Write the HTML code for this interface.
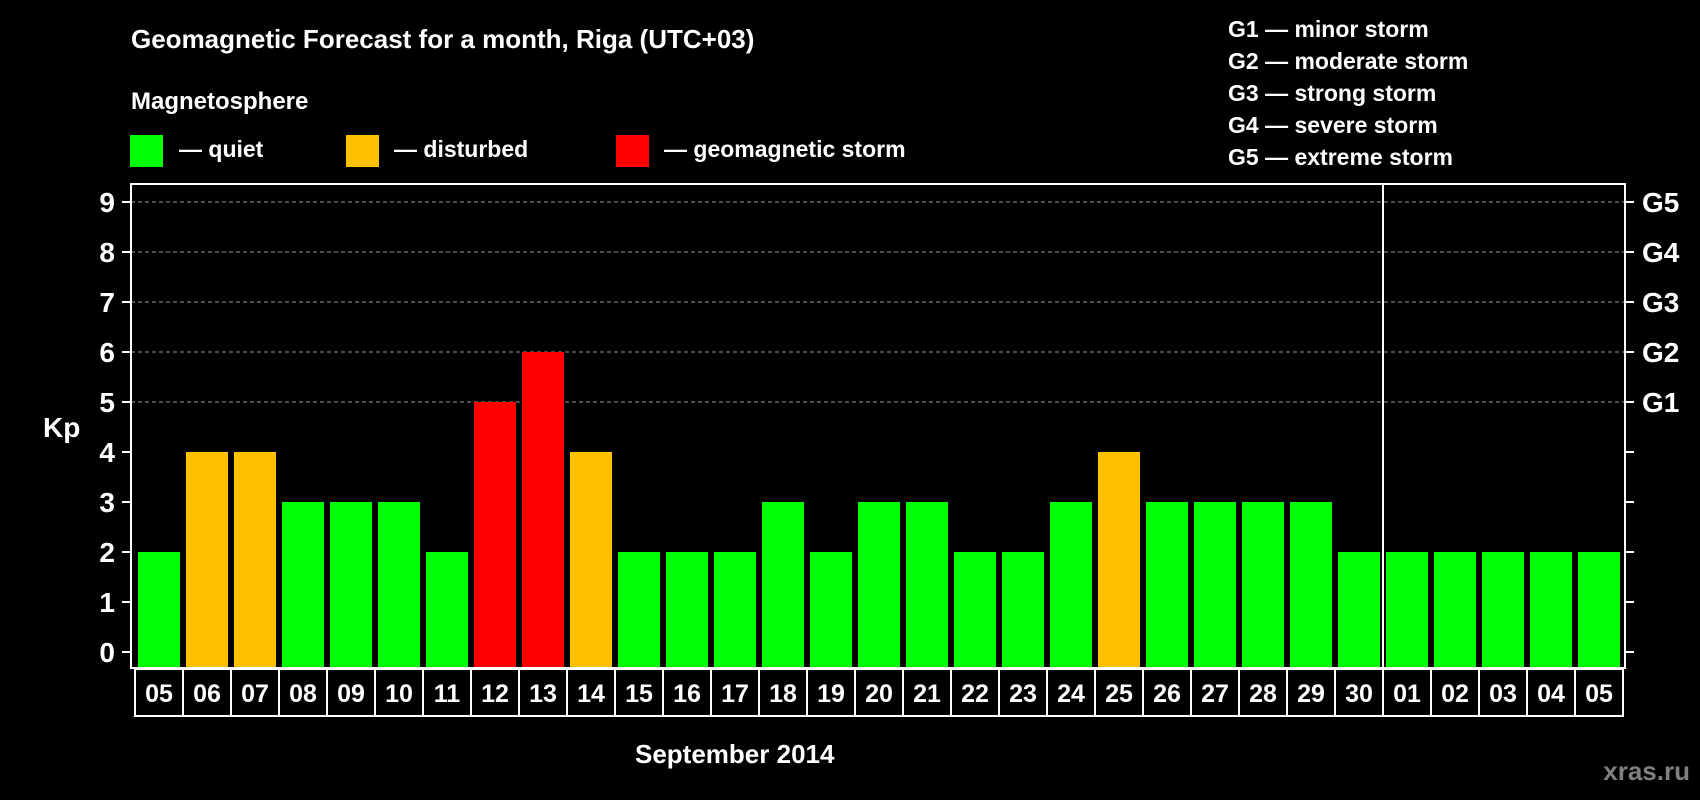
<!DOCTYPE html>
<html><head><meta charset="utf-8"><style>
html,body{margin:0;padding:0;background:#000;}
svg{display:block;font-family:"Liberation Sans",Arial,sans-serif;font-weight:bold;}
</style></head><body>
<svg id="chart" width="1700" height="800" viewBox="0 0 1700 800">
<rect width="1700" height="800" fill="#000"/>
<text x="131" y="48" font-size="26" fill="#fff">Geomagnetic Forecast for a month, Riga (UTC+03)</text>
<text x="131" y="109" font-size="24" fill="#fff">Magnetosphere</text>
<g><rect x="130" y="135" width="33" height="32" fill="#00ff00"/><text x="179" y="157" font-size="23" fill="#fff">— quiet</text></g>
<g><rect x="346" y="135" width="33" height="32" fill="#ffc000"/><text x="394" y="157" font-size="23" fill="#fff">— disturbed</text></g>
<g><rect x="616" y="135" width="33" height="32" fill="#ff0000"/><text x="664" y="157" font-size="23" fill="#fff">— geomagnetic storm</text></g>
<g font-size="23" fill="#fff">
<text x="1228" y="37">G1 — minor storm</text>
<text x="1228" y="69">G2 — moderate storm</text>
<text x="1228" y="101">G3 — strong storm</text>
<text x="1228" y="133">G4 — severe storm</text>
<text x="1228" y="165">G5 — extreme storm</text>
</g>
<text x="43" y="437" font-size="28" fill="#fff">Kp</text>
<text x="635" y="763" font-size="26" fill="#fff">September 2014</text>
<text x="1690" y="780" font-size="26" fill="#808080" text-anchor="end">xras.ru</text>
<g id="grid"></g><g id="bars"></g><g id="axes"></g>
</svg>
<script>
const dayLabels=["05","06","07","08","09","10","11","12","13","14","15","16","17","18","19","20","21","22","23","24","25","26","27","28","29","30","01","02","03","04","05"];
const kpValues=[2,4,4,3,3,3,2,5,6,4,2,2,2,3,2,3,3,2,2,3,4,3,3,3,3,2,2,2,2,2,2];
const yTicks=[0,1,2,3,4,5,6,7,8,9];
const gLabels=["","","","","","G1","G2","G3","G4","G5"];
const monthBreakIndex=26;

const NS="http://www.w3.org/2000/svg";
const L=131,R=1625,T=184,B=668,X0=135,STEP=48;
function y(v){return 652-v*50;}
function x(i){return X0+i*STEP;}
function mk(t,a,p){const e=document.createElementNS(NS,t);for(const k in a)e.setAttribute(k,a[k]);p.appendChild(e);return e;}
const grid=document.getElementById('grid'),bars=document.getElementById('bars'),axes=document.getElementById('axes');
yTicks.forEach((v,i)=>{
  if(v>=5){const g=mk('line',{x1:L,x2:R,y1:y(v),y2:y(v),stroke:'#999','stroke-width':1,'stroke-dasharray':'4,3'},grid);
  
  }
  const tl=mk('line',{x1:L-9,x2:L,y1:y(v),y2:y(v),stroke:'#fff','stroke-width':2},axes);
  
  
  const tr=mk('line',{x1:R,x2:R+9,y1:y(v),y2:y(v),stroke:'#fff','stroke-width':2},axes);
  
  
  const t=mk('text',{x:115,y:y(v)+10,'font-size':28,fill:'#fff','text-anchor':'end'},axes);t.textContent=v;
  
  
  if(gLabels[i]){const g=mk('text',{x:1642,y:y(v)+10,'font-size':28,fill:'#fff'},axes);g.textContent=gLabels[i];
  
  }
});
kpValues.forEach((v,i)=>{
  const c=v>=5?'#ff0000':(v>=4?'#ffc000':'#00ff00');
  const b=mk('rect',{x:x(i)+3,y:y(v),width:42,height:B-y(v),fill:c},bars);
  
  
  const bx=mk('rect',{x:x(i),y:B+1,width:STEP,height:47,fill:'none',stroke:'#fff','stroke-width':2},axes);
  
  
  const t=mk('text',{x:x(i)+STEP/2,y:702,'font-size':25,fill:'#fff','text-anchor':'middle'},axes);t.textContent=dayLabels[i];
  
  
});
const fr=mk('rect',{x:L,y:T,width:R-L,height:B-T,fill:'none',stroke:'#fff','stroke-width':2},axes);


const sep=mk('line',{x1:x(monthBreakIndex),x2:x(monthBreakIndex),y1:T,y2:716,stroke:'#fff','stroke-width':2},axes);


</script>
</body></html>
